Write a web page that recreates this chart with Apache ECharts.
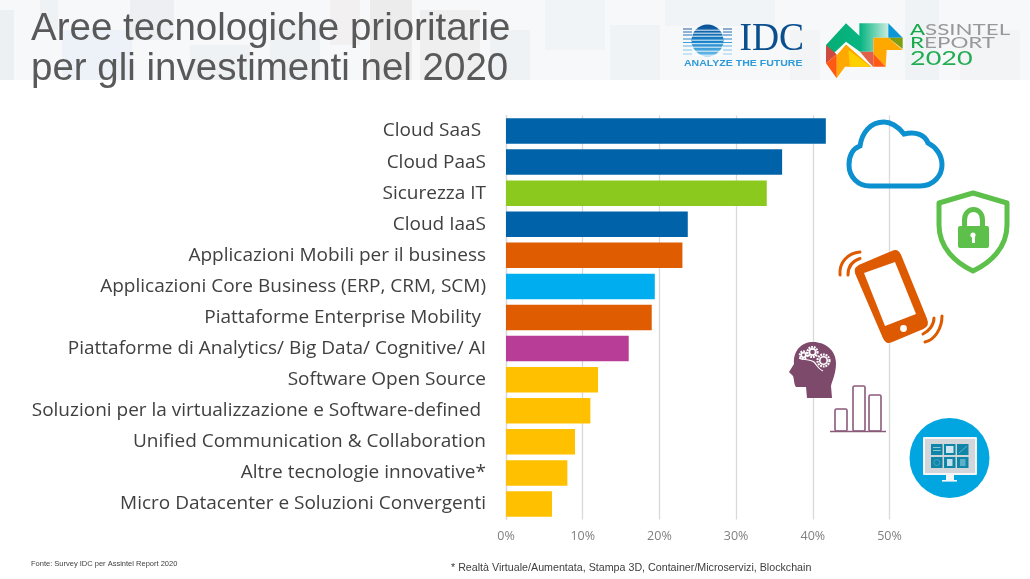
<!DOCTYPE html>
<html>
<head>
<meta charset="utf-8">
<title>Aree tecnologiche prioritarie</title>
<style>
  html, body { margin: 0; padding: 0; background: #fff; }
  #chart { width: 1030px; height: 579px; }
</style>
<script src="https://cdn.jsdelivr.net/npm/echarts@6/dist/echarts.min.js"></script>
</head>
<body>
<div id="chart"></div>
<script>
// ---- data ----
const categories = [
  'Cloud SaaS ',
  'Cloud PaaS',
  'Sicurezza IT',
  'Cloud IaaS',
  'Applicazioni Mobili per il business',
  'Applicazioni Core Business (ERP, CRM, SCM)',
  'Piattaforme Enterprise Mobility ',
  'Piattaforme di Analytics/ Big Data/ Cognitive/ AI',
  'Software Open Source',
  'Soluzioni per la virtualizzazione e Software-defined ',
  'Unified Communication & Collaboration',
  'Altre tecnologie innovative*',
  'Micro Datacenter e Soluzioni Convergenti',
];
const values = [41.7, 36, 34, 23.7, 23, 19.4, 19, 16, 12, 11, 9, 8, 6];
const barColors = [
  '#0063a9', '#0063a9', '#8cc91f', '#0063a9', '#e05c00', '#00aef0', '#e05c00',
  '#b83d96', '#ffc000', '#ffc000', '#ffc000', '#ffc000', '#ffc000',
];

const titleText = 'Aree tecnologiche prioritarie\nper gli investimenti nel 2020';
const sourceNote = 'Fonte: Survey IDC per Assintel Report 2020';
const footNote = '* Realtà Virtuale/Aumentata, Stampa 3D, Container/Microservizi, Blockchain';

// ---- decoration helpers ----
const ICON_Z = 10;
let shapeCount = 0;

function poly(points, fill) {
  return { type: 'polygon', z: ICON_Z, shape: { points }, style: { fill } };
}
// graphic has no plain 'path' type, so each svg path gets its own registered shape
function iconPath(d, style) {
  const name = 'iconShape' + (shapeCount++);
  echarts.graphic.registerShape(name, echarts.graphic.extendPath(d, {}));
  return { type: name, z: ICON_Z, style };
}
function rect(x, y, width, height, fill, r) {
  return { type: 'rect', z: ICON_Z, shape: { x, y, width, height, r: r || 0 }, style: { fill } };
}
function circle(cx, cy, r, style) {
  return { type: 'circle', z: ICON_Z, shape: { cx, cy, r }, style };
}
function text(x, y, str, font, fill, extra) {
  return Object.assign({
    type: 'text', z: ICON_Z, x, y,
    style: { text: str, font, fill, textVerticalAlign: 'middle' },
  }, extra || {});
}
function hline(x1, x2, y, stroke, lineWidth) {
  return { type: 'line', z: ICON_Z, shape: { x1, y1: y, x2, y2: y }, style: { stroke, lineWidth } };
}

// faint skyline behind the header
function skyline() {
  const out = [{ type: 'rect', z: -5, shape: { x: 0, y: 0, width: 1030, height: 80 }, style: { fill: '#f7f8fa' } }];
  const blocks = [
    [0, 10, 14, 70, '#e6e9ec'], [40, 0, 18, 30, '#e9ecef'], [62, 30, 70, 50, '#e4edf4'],
    [130, 0, 44, 40, '#e6e8ec'], [190, 45, 60, 35, '#e9edf1'], [270, 20, 50, 60, '#eaedf0'],
    [330, 0, 30, 45, '#eeeaea'], [370, 0, 42, 80, '#e6e2e2'], [420, 10, 60, 70, '#ebe8e7'],
    [490, 30, 40, 50, '#eaedf0'], [545, 0, 60, 50, '#edf0f3'], [610, 25, 50, 55, '#ebeff2'],
    [665, 0, 110, 26, '#edf1f4'], [790, 30, 30, 50, '#eef1f3'], [905, 0, 34, 80, '#ebeef0'],
    [960, 30, 60, 50, '#eef1f3'],
  ];
  blocks.forEach(b => out.push({
    type: 'rect', z: -4, shape: { x: b[0], y: b[1], width: b[2], height: b[3] },
    style: { fill: b[4], opacity: 0.55 },
  }));
  return out;
}

function idcLogo() {
  const out = [];
  const lineY = [29, 32, 35, 39, 42.5, 46, 50, 54];
  const blues = ['#0a4f96', '#0a5ea8', '#0a66b0', '#1580c6', '#2a94d4', '#4aa8de', '#74bfe8', '#8fcdee'];
  out.push(circle(707.5, 40.5, 16, {
    fill: new echarts.graphic.LinearGradient(0, 0, 0, 1, [
      { offset: 0, color: '#0a4f96' }, { offset: 0.55, color: '#1a86cc' }, { offset: 1, color: '#6fc0ea' },
    ]),
  }));
  lineY.forEach((y, i) => {
    out.push(hline(692, 723, y + 1.2, '#ffffff', 0.9));
    out.push(hline(683, 692, y, blues[i], 0.9));
    out.push(hline(723, 732, y, blues[i], 0.9));
  });
  out.push(text(739.5, 39.5, 'IDC', '39.5px "Liberation Serif"', '#0b4f8f', { scaleX: 0.95 }));
  out.push(text(684, 63.5, 'ANALYZE THE FUTURE', 'bold 8.5px "Liberation Sans"', '#2f9bd8', { scaleX: 1.24 }));
  return out;
}

function assintelLogo() {
  const p = (pts) => pts.map(q => [820 + q[0] / 3, 15 + q[1] / 3]);
  return [
    {
      type: 'polygon', z: ICON_Z,
      shape: { points: p([[18, 90], [78, 25], [118, 62], [118, 25], [205, 25], [205, 68], [160, 68], [160, 110], [120, 110], [78, 80], [25, 130]]) },
      style: {
        fill: new echarts.graphic.LinearGradient(0, 0, 1, 0, [
          { offset: 0, color: '#04ad74' }, { offset: 0.55, color: '#08b582' }, { offset: 1, color: '#c9ecdf' },
        ]),
      },
    },
    poly(p([[205, 25], [248, 68], [205, 68]]), '#0d96d6'),
    poly(p([[205, 68], [248, 68], [248, 102]]), '#7f9e10'),
    poly(p([[160, 68], [205, 68], [248, 105], [200, 105], [197, 155], [160, 115]]), '#ffa800'),
    poly(p([[120, 110], [160, 110], [160, 155], [155, 152]]), '#e0604a'),
    poly(p([[160, 115], [197, 155], [160, 155]]), '#ff5a14'),
    poly(p([[18, 90], [50, 118], [18, 145]]), '#cc4a40'),
    poly(p([[50, 118], [78, 88], [155, 155], [75, 155], [50, 190]]), '#ffa800'),
    poly(p([[18, 145], [50, 118], [50, 190]]), '#ff5a14'),
    poly(p([[85, 105], [152, 155], [90, 155]]), '#ffd000'),
    {
      type: 'polyline', z: ICON_Z,
      shape: { points: p([[50, 118], [78, 85], [155, 153]]) },
      style: { stroke: '#fff', lineWidth: 1.2, fill: 'none' },
    },
    {
      type: 'text', z: ICON_Z, x: 910, y: 30, scaleX: 1.44,
      style: {
        text: '{a|A}SSINTEL', textVerticalAlign: 'middle',
        rich: { a: { fill: '#14a84a', font: '15.5px "Lato"' } },
        font: '15.5px "Lato"', fill: '#999999',
      },
    },
    {
      type: 'text', z: ICON_Z, x: 910, y: 43, scaleX: 1.4,
      style: {
        text: '{a|R}EPORT', textVerticalAlign: 'middle',
        rich: { a: { fill: '#14a84a', font: '16px "Lato"' } },
        font: '16px "Lato"', fill: '#999999',
      },
    },
    text(910, 59, '2020', '20px "Lato"', '#22ad52', { scaleX: 1.35 }),
  ];
}

function cloudIcon() {
  return [iconPath(
    'M870 186L920 186C934 186 942 175 942 165C942 155 936 147 928 143C925 135 916 131 904 134C898 126 890 122 884 122C870 122 862 133 860 146C852 149 849 157 849 165C849 177 858 186 870 186Z',
    { fill: 'none', stroke: '#0d90d0', lineWidth: 5 }
  )];
}

function shieldIcon() {
  return [
    iconPath('M973 193L1007 203L1007 225C1007 248 990 263 973 271C956 263 939 248 939 225L939 203Z',
      { fill: '#fff', stroke: '#5cc04a', lineWidth: 5, lineJoin: 'round' }),
    iconPath('M964.5 228L964.5 220C964.5 206 982.5 206 982.5 220L982.5 228',
      { fill: 'none', stroke: '#5cc04a', lineWidth: 5 }),
    rect(958, 226, 31, 22, '#5cc04a', 2),
    circle(973, 235, 2.6, { fill: '#fff' }),
    rect(972, 236, 3, 7, '#fff'),
  ];
}

function phoneIcon() {
  const orange = '#dd5a00';
  const wave = { fill: 'none', stroke: orange, lineWidth: 3, lineCap: 'round' };
  return [
    iconPath('M859 266L892 252C896 250 898 251 900 255L926 319C928 324 927 326 923 328L892 341C888 343 886 342 884 338L856 273C855 269 856 268 859 266Z',
      { fill: orange, stroke: orange, lineWidth: 2, lineJoin: 'round' }),
    poly([[864, 273], [895, 262], [916, 314], [885, 326]], '#fff'),
    circle(903.5, 328.5, 3.4, { fill: '#fff' }),
    iconPath('M840 275C839 262 848 253 860 252', wave),
    iconPath('M848 275C848 267 852 261 860 258.5', wave),
    iconPath('M934 318C934 325 929 331 923 334', wave),
    iconPath('M942 316C942 328 935 340 925 342', wave),
  ];
}

function headIcon() {
  const purple = '#7d4a6b';
  const gear = (cx, cy, r) => [
    circle(cx, cy, r, { fill: 'none', stroke: '#fff', lineWidth: 2.2, lineDash: [1.8, 0.9] }),
    circle(cx, cy, r * 0.62, { fill: 'none', stroke: '#fff', lineWidth: 1.6 }),
  ];
  return [
    iconPath('M813 342C826 342 836 351 836 363C836 374 832 381 831 386L832 398L807 398L806 387L796 387C794 385 794 378 793 376L789 372L794 364C793 350 802 342 813 342Z',
      { fill: purple }),
    iconPath('M799 358C802 360 810 359 814 362C817 365 818 369 823 371',
      { fill: 'none', stroke: '#fff', lineWidth: 1.2 }),
    ...gear(812.5, 352, 5),
    ...gear(823.5, 360.5, 6),
    ...gear(803.5, 355, 3.6),
  ];
}

function barsIcon() {
  const s = { fill: '#fff', stroke: '#8a5a7a', lineWidth: 1.6 };
  const frame = (x, y, w, h) => ({ type: 'rect', z: ICON_Z, shape: { x, y, width: w, height: h, r: 1.5 }, style: s });
  return [
    frame(835, 409, 12, 22), frame(853, 386, 12, 45), frame(869, 395, 12, 36),
    hline(830, 886, 431.5, '#8a5a7a', 1.6),
  ];
}

function monitorIcon() {
  const out = [
    circle(949.5, 458, 40, { fill: '#01a6e0' }),
    rect(923, 437, 54, 38, '#f4f6f7', 1),
    rect(925, 439, 50, 34, '#d0d6d9'),
    rect(946, 475, 8, 5, '#f4f6f7'),
    rect(942, 480, 15, 1.6, '#f4f6f7'),
  ];
  [931, 944, 957].forEach(x => {
    [444, 457].forEach(y => out.push(rect(x, y, 11.5, 11, '#0f86a8')));
  });
  out.push(rect(946, 446, 7.5, 7, '#cfe6ee'));
  out.push(rect(933, 447, 7.5, 1, '#8fc6d8'), rect(933, 450, 7.5, 1, '#8fc6d8'));
  out.push(circle(936.8, 462.5, 3, { fill: 'none', stroke: '#45a3bf', lineWidth: 1 }));
  out.push(rect(947, 459, 5.5, 7, '#bfe0ea'), rect(960, 459, 5.5, 7, '#5eb0c9'));
  out.push({ type: 'line', z: ICON_Z, shape: { x1: 959, y1: 453, x2: 967, y2: 446 }, style: { stroke: '#5eb0c9', lineWidth: 1 } });
  return out;
}

// ---- chart ----
const chart = echarts.init(document.getElementById('chart'), null, { renderer: 'canvas' });

chart.setOption({
  animation: false,
  backgroundColor: '#fff',
  title: {
    text: titleText,
    left: 26, top: 4,
    textStyle: {
      fontFamily: '"Liberation Sans"', fontSize: 38.5, fontWeight: 'normal',
      color: '#595959', lineHeight: 40,
    },
  },
  grid: { left: 506, top: 115.5, width: 383.5, height: 404 },
  xAxis: {
    type: 'value', min: 0, max: 50, interval: 10,
    axisLine: { show: false },
    axisTick: { show: false },
    axisLabel: {
      formatter: '{value}%', color: '#7f7f7f', fontSize: 12.5,
      fontFamily: '"Open Sans"', margin: 10,
    },
    splitLine: { show: true, lineStyle: { color: '#d9d9d9', width: 1.3 } },
  },
  yAxis: {
    type: 'category', inverse: true, data: categories,
    axisLine: { show: true, lineStyle: { color: '#d9d9d9', width: 1.3 } },
    axisTick: { show: false },
    axisLabel: {
      color: '#404040', fontSize: 19, fontFamily: '"Open Sans"', margin: 20, interval: 0,
      padding: [12, 0, 0, 0],
    },
  },
  series: [{
    type: 'bar',
    barWidth: '82%',
    data: values.map((v, i) => ({ value: v, itemStyle: { color: barColors[i] } })),
  }],
  graphic: [
    ...skyline(),
    ...idcLogo(),
    ...assintelLogo(),
    ...cloudIcon(),
    ...shieldIcon(),
    ...phoneIcon(),
    ...headIcon(),
    ...barsIcon(),
    ...monitorIcon(),
    text(31, 564, sourceNote, '7.5px "Liberation Sans"', '#404040'),
    text(451, 568, footNote, '10.7px "Liberation Sans"', '#404040'),
  ],
});
</script>
</body>
</html>
